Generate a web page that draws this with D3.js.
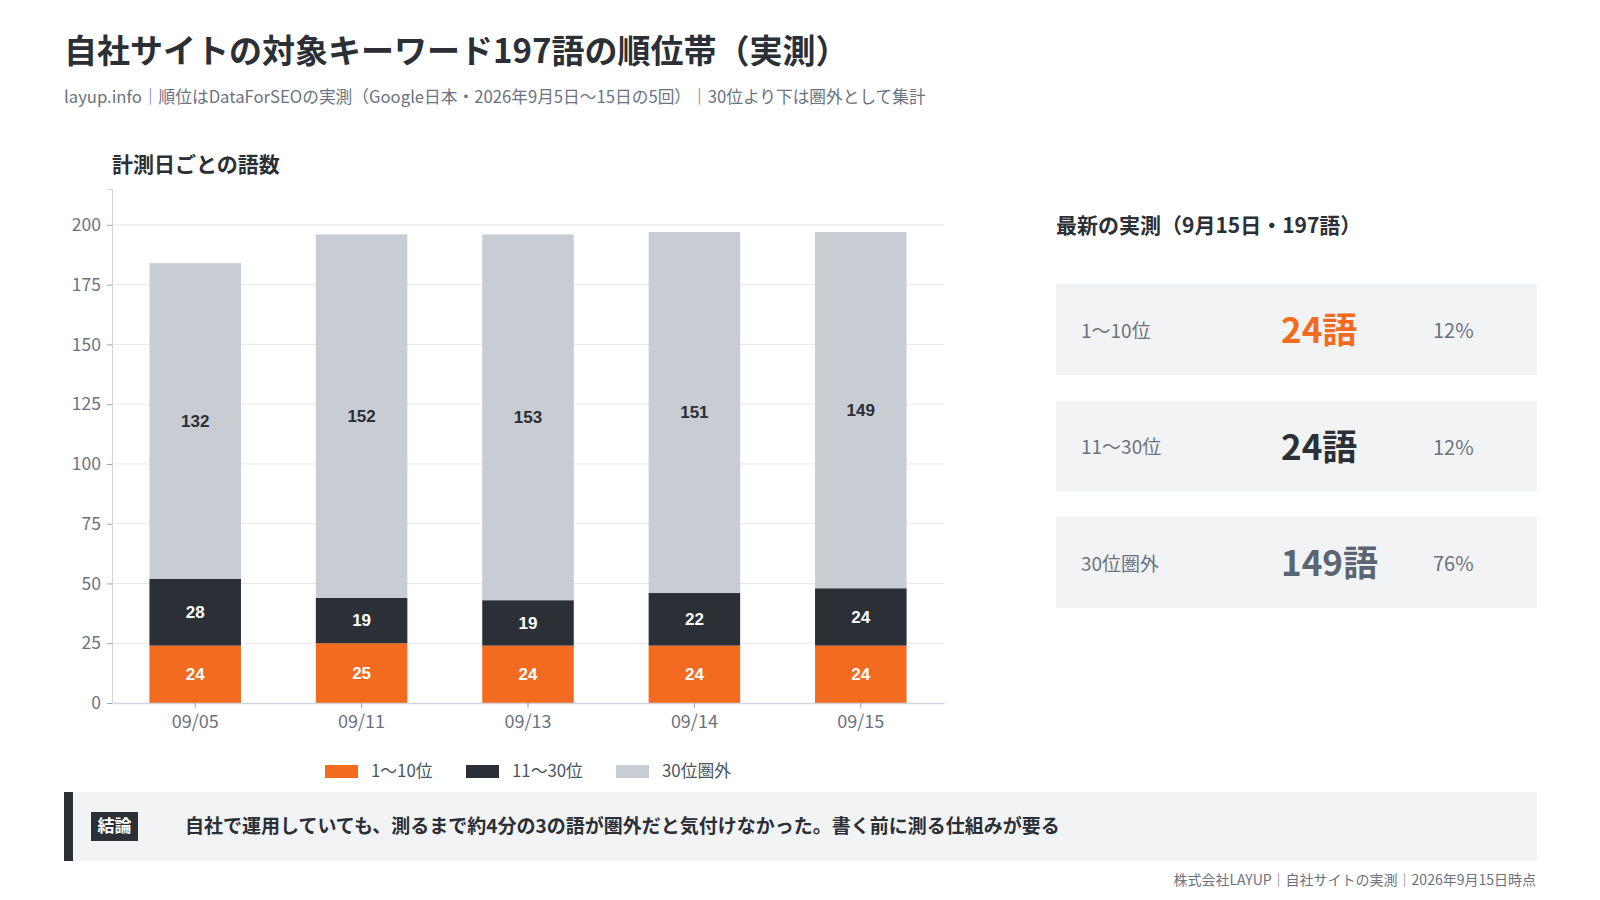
<!DOCTYPE html>
<html>
<head>
<meta charset="utf-8">
<script src="https://cdn.jsdelivr.net/npm/d3@7"></script>
<style>
  body { margin: 0; background: #fff; }
  svg { display: block; font-family: "Noto Sans CJK JP", "Noto Sans", sans-serif; }
</style>
</head>
<body>
<svg width="1600" height="900"></svg>
<script>
const svg = d3.select('svg');

// data
const dates = ['09/05', '09/11', '09/13', '09/14', '09/15'];
const top10 = [24, 25, 24, 24, 24];
const top30 = [28, 19, 19, 22, 24];
const outside = [132, 152, 153, 151, 149];
const yTicks = [0, 25, 50, 75, 100, 125, 150, 175, 200];
const seriesKeys = ['1〜10位', '11〜30位', '30位圏外'];
const seriesColors = ['#f26b21', '#2b2f36', '#c8ccd3'];
const labelColors = ['#ffffff', '#ffffff', '#2b2f36'];

const latestLabels = ['1〜10位', '11〜30位', '30位圏外'];
const latestCounts = [24, 24, 149];
const latestPct = ['12%', '12%', '76%'];
const latestColors = ['#f26b21', '#2b2f36', '#5b6472'];

const MARGIN = { TOP: 189, LEFT: 112, RIGHT: 944, BOTTOM: 703 };

// header
svg.append('text')
  .attr('x', 64).attr('y', 63)
  .style('font-size', '33px').style('font-weight', 700).style('fill', '#2b2f36')
  .text('自社サイトの対象キーワード197語の順位帯（実測）');

svg.append('text')
  .attr('x', 64).attr('y', 103)
  .style('font-size', '16.7px').style('fill', '#6b7280')
  .text('layup.info｜順位はDataForSEOの実測（Google日本・2026年9月5日〜15日の5回）｜30位より下は圏外として集計');

svg.append('text')
  .attr('x', 112).attr('y', 172)
  .style('font-size', '21px').style('font-weight', 700).style('fill', '#2b2f36')
  .text('計測日ごとの語数');

// scales
const x = d3.scaleBand().domain(dates)
  .range([MARGIN.LEFT, MARGIN.RIGHT])
  .paddingInner(0.45).paddingOuter(0.225);
const y = d3.scaleLinear().domain([0, 215]).range([MARGIN.BOTTOM, MARGIN.TOP]);

// grid
svg.append('g')
  .selectAll('line')
  .data(yTicks.slice(1))
  .enter()
  .append('line')
  .attr('x1', MARGIN.LEFT).attr('x2', MARGIN.RIGHT)
  .attr('y1', d => y(d)).attr('y2', d => y(d))
  .attr('stroke', '#e5e7eb').attr('stroke-width', 1);

// stacked bars
const table = dates.map((d, i) => ({ date: d, '1〜10位': top10[i], '11〜30位': top30[i], '30位圏外': outside[i] }));
const stack = d3.stack().keys(seriesKeys)(table);

const layer = svg.selectAll('.layer')
  .data(stack)
  .enter()
  .append('g')
  .attr('class', 'layer');

layer.selectAll('rect')
  .data(d => d)
  .enter()
  .append('rect')
  .attr('x', d => x(d.data.date))
  .attr('width', x.bandwidth())
  .attr('y', d => y(d[1]))
  .attr('height', d => y(d[0]) - y(d[1]))
  .style('fill', function () { return seriesColors[seriesKeys.indexOf(d3.select(this.parentNode).datum().key)]; });

layer.each(function (s, si) {
  d3.select(this).selectAll('text')
    .data(s)
    .enter()
    .append('text')
    .attr('x', d => x(d.data.date) + x.bandwidth() / 2)
    .attr('y', d => y((d[0] + d[1]) / 2))
    .attr('dy', '.35em')
    .style('text-anchor', 'middle')
    .style('font', '700 17px "Liberation Sans", Arial, sans-serif')
    .style('fill', labelColors[si])
    .text(d => d[1] - d[0]);
});

// axes
const yAxis = svg.append('g')
  .attr('transform', `translate(${MARGIN.LEFT},0)`)
  .call(d3.axisLeft(y).tickValues(yTicks).tickSize(5).tickPadding(6));
yAxis.select('.domain').attr('stroke', '#d1d5db');
yAxis.selectAll('.tick line').attr('stroke', '#9ca3af');
yAxis.selectAll('text').style('font-size', '17.5px').style('fill', '#6b7280')
  .style('font-family', '"Noto Sans CJK JP", sans-serif');

const xAxis = svg.append('g')
  .attr('transform', `translate(0,${MARGIN.BOTTOM})`)
  .call(d3.axisBottom(x).tickSize(5).tickSizeOuter(0).tickPadding(7));
xAxis.select('.domain').attr('stroke', '#d1d5db').attr('stroke-width', 1.5);
xAxis.selectAll('.tick line').attr('stroke', '#9ca3af');
xAxis.selectAll('text').style('font-size', '18px').style('fill', '#6b7280')
  .style('font-family', '"Noto Sans CJK JP", sans-serif');

// legend
const legendX = [325, 466, 616];
const legend = svg.append('g').selectAll('g')
  .data(seriesKeys)
  .enter()
  .append('g')
  .attr('transform', (d, i) => `translate(${legendX[i]},771)`);
legend.append('rect')
  .attr('x', 0).attr('y', -6).attr('width', 33).attr('height', 13)
  .style('fill', (d, i) => seriesColors[i]);
legend.append('text')
  .attr('x', 46).attr('dy', '.35em')
  .style('font-size', '16.8px').style('fill', '#4b5563')
  .text(d => d);

// right panel
svg.append('text')
  .attr('x', 1056).attr('y', 233)
  .style('font-size', '21px').style('font-weight', 700).style('fill', '#2b2f36')
  .text('最新の実測（9月15日・197語）');

const card = svg.append('g').selectAll('g')
  .data(latestLabels)
  .enter()
  .append('g')
  .attr('transform', (d, i) => `translate(1056,${284 + i * 116.5})`);
card.append('rect')
  .attr('width', 481).attr('height', 91)
  .style('fill', '#f2f3f5');
card.append('text')
  .attr('x', 25).attr('y', 47).attr('dy', '.35em')
  .style('font-size', '19px').style('fill', '#6b7280')
  .text(d => d);
card.append('text')
  .attr('x', 225).attr('y', 47).attr('dy', '.35em')
  .style('font-size', '35px').style('font-weight', 700)
  .style('fill', (d, i) => latestColors[i])
  .text((d, i) => latestCounts[i] + '語');
card.append('text')
  .attr('x', 377).attr('y', 47).attr('dy', '.35em')
  .style('font-size', '20px').style('fill', '#6b7280')
  .text((d, i) => latestPct[i]);

// conclusion
svg.append('rect')
  .attr('x', 64).attr('y', 792).attr('width', 1473).attr('height', 69)
  .style('fill', '#f2f3f5');
svg.append('rect')
  .attr('x', 64).attr('y', 792).attr('width', 9).attr('height', 69)
  .style('fill', '#2b2f36');
svg.append('rect')
  .attr('x', 91).attr('y', 812).attr('width', 47).attr('height', 29)
  .style('fill', '#2b2f36');
svg.append('text')
  .attr('x', 114.5).attr('y', 826.5).attr('dy', '.35em')
  .style('text-anchor', 'middle')
  .style('font-size', '17px').style('font-weight', 700).style('fill', '#fff')
  .text('結論');
svg.append('text')
  .attr('x', 185).attr('y', 826.5).attr('dy', '.35em')
  .style('font-size', '19px').style('font-weight', 700).style('fill', '#2b2f36')
  .text('自社で運用していても、測るまで約4分の3の語が圏外だと気付けなかった。書く前に測る仕組みが要る');

// footer
svg.append('text')
  .attr('x', 1536).attr('y', 885)
  .style('text-anchor', 'end')
  .style('font-size', '14px').style('fill', '#6b7280')
  .text('株式会社LAYUP｜自社サイトの実測｜2026年9月15日時点');
</script>
</body>
</html>
